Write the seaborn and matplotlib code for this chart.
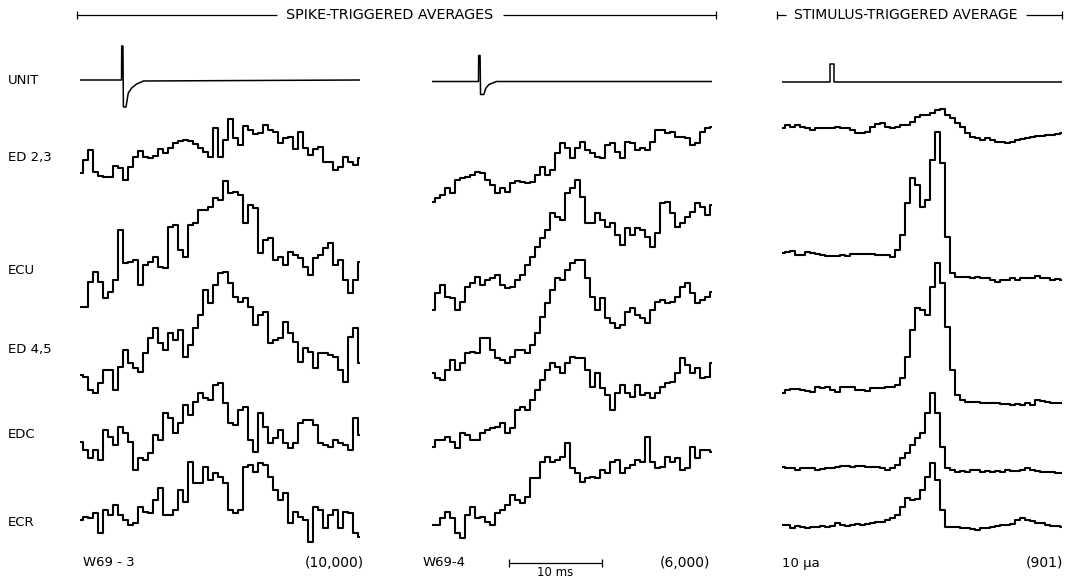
import numpy as np
import pandas as pd
import seaborn as sns
import matplotlib.pyplot as plt

# time base of every averaged trace (ms), 57 bins
t_ms = np.linspace(0, 30, 57)

muscles = ["ED 2,3", "ECU", "ED 4,5", "EDC", "ECR"]

# W69-3 spike-triggered averages (amplitude above each trace's own baseline)
ed23_1 = [7,20,30,8,4,3,3,14,12,0,13,23,29,23,22,24,31,27,32,37,39,40,39,36,32,28,23,52,23,40,61,42,35,54,50,46,47,55,50,48,37,42,43,31,48,32,25,31,33,18,18,10,13,23,18,15,22]
ecu_1 = [3,3,28,38,28,12,18,30,80,47,48,50,25,45,48,53,43,42,83,85,60,53,85,87,100,100,103,112,110,129,117,118,115,87,105,102,57,70,72,50,53,45,58,55,52,43,35,52,55,62,67,45,50,30,17,30,48]
ed45_1 = [20,18,5,2,12,25,25,5,28,45,32,27,23,42,57,67,52,45,62,55,65,38,50,67,80,105,92,110,122,123,112,98,93,97,88,70,80,83,52,55,57,73,62,53,33,47,43,27,42,42,40,38,25,13,58,67,32]
edc_1 = [30,22,14,22,12,42,35,27,45,39,30,2,14,12,19,37,32,59,54,39,49,67,57,70,79,74,72,87,89,69,49,47,62,65,32,20,59,45,29,34,42,29,24,29,49,52,52,47,29,27,25,32,29,27,22,54,37]
ecr_1 = [25,28,27,32,12,35,30,40,30,25,20,22,38,33,32,45,57,30,30,35,55,43,83,62,62,78,65,72,68,62,35,32,35,78,80,73,82,80,68,55,45,52,22,33,28,25,3,38,35,17,30,35,17,33,32,12,8]

# W69-4 spike-triggered averages
ed23_2 = [3,7,10,17,12,25,27,28,30,33,32,25,20,12,17,13,22,24,23,22,23,30,38,30,35,52,62,57,47,57,63,55,52,48,47,60,62,53,47,63,62,55,57,55,63,75,75,72,73,68,68,67,60,62,73,77,78]
ecu_2 = [2,19,27,15,14,2,10,25,29,35,27,32,34,37,27,24,25,32,37,47,55,65,74,82,99,95,92,119,124,132,115,89,89,99,92,85,89,77,67,84,77,84,82,75,65,79,109,110,99,85,89,95,100,109,105,97,107]
ed45_2 = [9,4,2,12,22,12,19,29,30,29,44,44,32,24,22,19,25,32,32,29,37,49,65,79,92,104,102,112,119,122,122,104,85,72,84,64,59,54,57,70,74,67,64,59,72,80,82,79,80,85,95,99,89,79,82,85,90]
edc_2 = [3,10,10,13,8,2,17,15,10,10,17,20,22,23,27,17,22,40,43,40,50,60,70,80,87,83,77,87,93,92,92,80,63,77,62,55,40,57,65,57,53,65,55,57,52,57,63,67,68,77,92,85,77,82,72,73,87]
ecr_2 = [15,15,22,28,22,7,2,25,33,22,23,18,15,27,30,35,45,40,37,43,62,62,78,83,78,80,83,97,72,67,58,62,63,62,70,67,78,80,67,72,75,80,78,103,78,72,73,83,78,82,70,72,93,82,90,90,88]

# stimulus-triggered averages (10 uA)
ed23_3 = [17,20,18,20,18,17,15,17,17,17,17,18,17,17,15,12,12,13,18,21,22,18,17,18,20,20,23,28,30,30,32,35,36,30,27,22,18,12,8,7,5,7,5,3,3,2,3,5,6,7,8,9,9,10,10,11,12]
ecu_3 = [32,33,34,30,30,33,32,31,30,29,29,29,30,29,31,31,31,31,31,30,30,30,28,35,50,82,107,100,78,85,125,153,122,48,12,8,8,8,7,8,7,7,5,3,5,5,7,5,7,7,7,9,7,7,5,6,5]
ed45_3 = [15,18,19,19,18,17,16,21,20,21,18,16,21,21,21,18,18,17,20,20,20,21,21,23,30,51,78,100,98,93,121,145,125,81,38,13,8,6,6,6,5,5,5,5,4,4,3,4,3,5,3,8,7,6,5,5,5]
edc_3 = [9,8,8,6,8,8,8,6,7,8,8,9,10,10,9,10,10,9,9,9,8,6,8,11,18,23,31,38,43,63,83,63,29,8,6,4,5,4,6,6,4,5,4,5,4,6,5,5,6,8,6,5,4,4,4,3,3]
ecr_3 = [8,8,5,7,6,5,6,6,7,6,7,10,8,7,8,9,8,9,10,11,11,13,15,18,26,35,33,34,43,56,70,53,23,6,6,6,5,5,4,3,5,5,6,7,8,8,9,13,15,13,12,10,10,8,7,7,6]

# unit waveforms (time ms, amplitude)
unit1_t = [0, 4.45, 4.47, 4.6, 4.65, 4.93, 5.17, 5.54, 6.07, 6.8, 30]
unit1_v = [0, 0, 34, 34, -27, -27, -13, -8, -4, -1, 0]
unit2_t = [0, 4.98, 5.0, 5.15, 5.2, 5.55, 5.75, 6.1, 6.9, 30]
unit2_v = [0, 0, 26, 26, -13, -13, -7, -3, 0, 0]
unit3_t = [0, 5.1, 5.1, 5.6, 5.6, 30]
unit3_v = [0, 0, 18, 18, 0, 0]

W, H = 1073, 578
sns.set_theme(style="white")
plt.rcParams['font.family'] = ['DejaVu Sans']
plt.rcParams['text.color'] = 'black'

fig = plt.figure(figsize=(W / 100, H / 100), dpi=100)
ov = fig.add_axes([0, 0, 1, 1])
ov.set_xlim(0, W)
ov.set_ylim(H, 0)
ov.axis('off')

columns = [
    dict(span=(80, 360), traces=[ed23_1, ecu_1, ed45_1, edc_1, ecr_1],
         bases=[180, 310, 395, 472, 545], unit=(unit1_t, unit1_v), ubase=80),
    dict(span=(432, 712), traces=[ed23_2, ecu_2, ed45_2, edc_2, ecr_2],
         bases=[205, 312, 382, 450, 540], unit=(unit2_t, unit2_v), ubase=81.5),
    dict(span=(782, 1062), traces=[ed23_3, ecu_3, ed45_3, edc_3, ecr_3],
         bases=[145, 285, 408, 476, 533], unit=(unit3_t, unit3_v), ubase=81.5),
]

axes = []
for col in columns:
    x0, x1 = col['span']
    ax = fig.add_axes([x0 / W, 0, (x1 - x0) / W, 1])
    ax.set_xlim(0, 30)
    ax.set_ylim(H, 0)
    frames = []
    for name, amp, base in zip(muscles, col['traces'], col['bases']):
        frames.append(pd.DataFrame({'t': t_ms, 'y': base - np.array(amp), 'muscle': name}))
    df = pd.concat(frames)
    sns.lineplot(data=df, x='t', y='y', units='muscle', estimator=None, ax=ax,
                 color='black', lw=1.5, drawstyle='steps-mid', legend=False)
    ut, uv = col['unit']
    udf = pd.DataFrame({'t': ut, 'y': col['ubase'] - np.array(uv)})
    sns.lineplot(data=udf, x='t', y='y', sort=False, estimator=None, ax=ax,
                 color='black', lw=1.1)
    ax.axis('off')
    axes.append(ax)

# row labels
for lab, yy in zip(["UNIT"] + muscles, [80, 158, 270, 350, 435, 522]):
    ov.text(8, yy, lab, ha='left', va='center', fontsize=9.5)

# headers
hy = 15
ov.hlines(hy, 77, 277, color='black', lw=0.9)
ov.hlines(hy, 503, 716, color='black', lw=0.9)
ov.vlines([77, 716], hy - 4, hy + 4, color='black', lw=0.9)
ov.text(390, hy, "SPIKE-TRIGGERED AVERAGES", ha='center', va='center', fontsize=10.3)
ov.hlines(hy, 777, 786, color='black', lw=0.9)
ov.hlines(hy, 1026, 1062, color='black', lw=0.9)
ov.vlines([777, 1062], hy - 4, hy + 4, color='black', lw=0.9)
ov.text(906, hy, "STIMULUS-TRIGGERED AVERAGE", ha='center', va='center', fontsize=10)

# bottom annotations
by = 563
ov.text(83, by, "W69 - 3", ha='left', va='center', fontsize=9.5)
ov.text(364, by, "(10,000)", ha='right', va='center', fontsize=10)
ov.text(423, by, "W69-4", ha='left', va='center', fontsize=9.5)
ov.text(710, by, "(6,000)", ha='right', va='center', fontsize=10)
ov.text(782, by, "10 \u03bca", ha='left', va='center', fontsize=9.5)
ov.text(1063, by, "(901)", ha='right', va='center', fontsize=10)

# 10 ms scale bar on the W69-4 time axis
ax2 = axes[1]
ax2.hlines(by, 8.2, 18.2, color='black', lw=0.9)
ax2.vlines([8.2, 18.2], by - 4, by + 4, color='black', lw=0.9)
ax2.text(13.2, 572, "10 ms", ha='center', va='center', fontsize=8.5)

fig.savefig("out.png", dpi=100, facecolor='white')
